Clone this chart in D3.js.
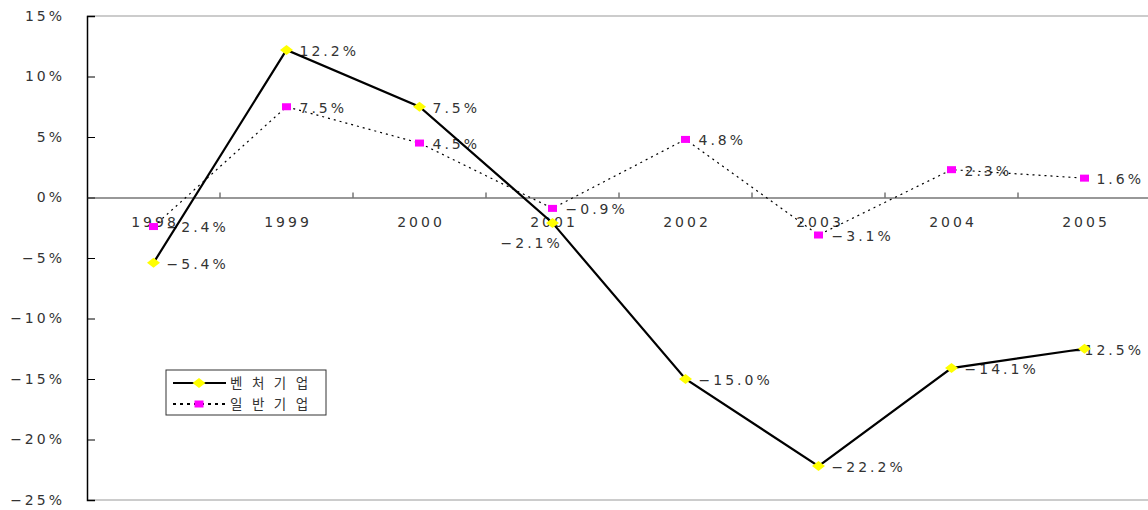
<!DOCTYPE html>
<html>
<head>
<meta charset="utf-8">
<script src="https://cdn.jsdelivr.net/npm/d3@7"></script>
<style>
  html, body { margin: 0; padding: 0; background: #fff; }
  svg text { font-family: "DejaVu Sans", "Noto Sans CJK KR", sans-serif; fill: #333; }
  svg text.kr { font-family: "Noto Sans CJK KR", sans-serif; }
</style>
</head>
<body>
<svg id="chart" width="1148" height="510"></svg>
<script>
// Years on the category axis
const years = ["1998", "1999", "2000", "2001", "2002", "2003", "2004", "2005"];
// Growth rates (%) per year
const ventureValues = [-5.4, 12.2, 7.5, -2.1, -15.0, -22.2, -14.1, -12.5];
const generalValues = [-2.4, 7.5, 4.5, -0.9, 4.8, -3.1, 2.3, 1.6];
const seriesNames = ["벤처기업", "일반기업"];
const yTicks = [15, 10, 5, 0, -5, -10, -15, -20, -25];

const W = 1148;
const svg = d3.select("#chart");
const plotLeft = 87, plotRight = 1151, plotTop = 16, plotBottom = 500;
const FS = 14, LS = 3; // numeric label font size and letter spacing

const x = d3.scaleBand().domain(years).range([plotLeft, plotRight]);
const y = d3.scaleLinear().domain([-25, 15]).range([plotBottom, plotTop]);
const cx = d => x(d) + x.bandwidth() / 2;

const minus = s => String(s).replace("-", "\u2212");
const fmtPct = v => minus(v.toFixed(1) + "%");

// Plot frame: grey top and bottom edges
svg.append("line").attr("x1", plotLeft).attr("x2", W).attr("y1", y(15)).attr("y2", y(15))
  .attr("stroke", "#999").attr("stroke-width", 1);
svg.append("line").attr("x1", plotLeft).attr("x2", W).attr("y1", y(-25)).attr("y2", y(-25))
  .attr("stroke", "#999").attr("stroke-width", 1);

// Value axis
const yAxis = svg.append("g").attr("transform", `translate(${plotLeft},0)`)
  .call(d3.axisRight(y).tickValues(yTicks).tickSize(8).tickFormat(""));
yAxis.select(".domain").attr("stroke", "#000").attr("stroke-width", 1.5);
yAxis.selectAll(".tick line").attr("stroke", "#000");
svg.append("g").selectAll("text").data(yTicks).join("text")
  .attr("x", 62 + LS).attr("y", d => y(d)).attr("dy", "0.35em")
  .attr("text-anchor", "end").attr("font-size", FS).attr("letter-spacing", LS)
  .text(d => minus(d + "%"));

// Category axis at zero
const xAxis = svg.append("g").attr("transform", `translate(0,${y(0)})`)
  .call(d3.axisTop(x).tickSize(0).tickFormat(""));
xAxis.select(".domain").attr("stroke", "#333").attr("stroke-width", 1.2);
const edges = d3.range(1, years.length).map(i => x(years[i]));
svg.append("g").selectAll("line").data(edges).join("line")
  .attr("x1", d => d).attr("x2", d => d)
  .attr("y1", y(0) - 5).attr("y2", y(0))
  .attr("stroke", "#333");
svg.append("g").selectAll("text").data(years).join("text")
  .attr("x", d => cx(d) + LS / 2).attr("y", y(0) + 29)
  .attr("text-anchor", "middle").attr("font-size", FS).attr("letter-spacing", LS)
  .text(d => d);

const venture = years.map((yr, i) => ({ year: yr, v: ventureValues[i] }));
const general = years.map((yr, i) => ({ year: yr, v: generalValues[i] }));

// Value labels (drawn beneath the lines and markers)
const labelLayer = svg.append("g");
function addLabels(data, special) {
  labelLayer.append("g").selectAll("text").data(data).join("text")
    .attr("font-size", FS).attr("letter-spacing", LS).attr("dy", "0.35em")
    .text(d => fmtPct(d.v))
    .each(function (d) {
      const t = d3.select(this);
      let lx = cx(d.year) + 13, ly = y(d.v) + 1;
      if (special && special(d)) { lx = cx(d.year) - 52; ly = y(d.v) + 20; }
      const w = this.getComputedTextLength();
      lx = Math.min(lx, W - 4 - w);   // keep the label inside the chart
      t.attr("x", lx).attr("y", ly);
    });
}
addLabels(venture, d => d.year === "2001");
addLabels(general);

// Series lines
const line = d3.line().x(d => cx(d.year)).y(d => y(d.v));
svg.append("path").datum(general).attr("d", line)
  .attr("fill", "none").attr("stroke", "#000").attr("stroke-width", 1.2)
  .attr("stroke-dasharray", "2,4");
svg.append("path").datum(venture).attr("d", line)
  .attr("fill", "none").attr("stroke", "#000").attr("stroke-width", 2.2);

// Markers
const diamond = (px, py) => `M${px - 6.5},${py} L${px},${py - 5} L${px + 6.5},${py} L${px},${py + 5} Z`;
svg.append("g").selectAll("path").data(venture).join("path")
  .attr("d", d => diamond(cx(d.year), y(d.v))).attr("fill", "#ffff00");
svg.append("g").selectAll("rect").data(general).join("rect")
  .attr("x", d => cx(d.year) - 4.5).attr("y", d => y(d.v) - 3.5)
  .attr("width", 9).attr("height", 7).attr("fill", "#ff00ff");

// Legend
const lg = svg.append("g").attr("transform", "translate(166,370)");
lg.append("rect").attr("width", 160).attr("height", 45)
  .attr("fill", "#fff").attr("stroke", "#333").attr("stroke-width", 1);
lg.append("line").attr("x1", 7).attr("x2", 60).attr("y1", 13).attr("y2", 13)
  .attr("stroke", "#000").attr("stroke-width", 2.2);
lg.append("path").attr("d", diamond(33, 13)).attr("fill", "#ffff00");
lg.append("line").attr("x1", 7).attr("x2", 60).attr("y1", 34).attr("y2", 34)
  .attr("stroke", "#000").attr("stroke-width", 2).attr("stroke-dasharray", "3,4");
lg.append("rect").attr("x", 28.5).attr("y", 30.5).attr("width", 9).attr("height", 7).attr("fill", "#ff00ff");
lg.selectAll("text.name").data(seriesNames).join("text")
  .attr("class", "kr")
  .attr("x", 64).attr("y", (d, i) => 13 + i * 21).attr("dy", "0.35em")
  .attr("font-size", 13.5).attr("letter-spacing", 9.5)
  .text(d => d);
</script>
</body>
</html>
